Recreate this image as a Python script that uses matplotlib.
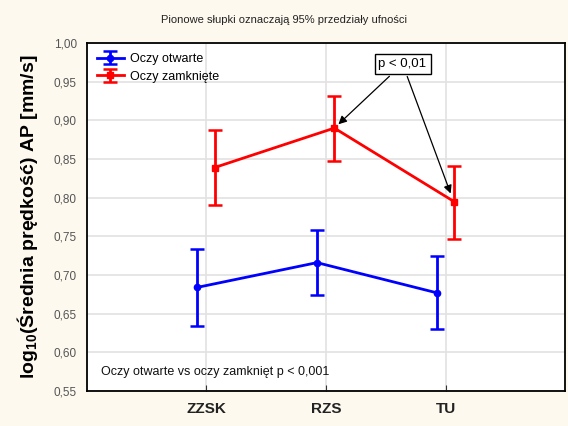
import matplotlib
matplotlib.use("Agg")
import matplotlib.pyplot as plt
from matplotlib import font_manager
import numpy as np

# ---- data ----
categories = ["ZZSK", "RZS", "TU"]
open_mean = [0.684, 0.716, 0.677]
open_low = [0.634, 0.674, 0.630]
open_high = [0.733, 0.758, 0.725]
closed_mean = [0.839, 0.890, 0.795]
closed_low = [0.790, 0.848, 0.747]
closed_high = [0.888, 0.932, 0.841]
series_names = ["Oczy otwarte", "Oczy zamknięte"]
yticks = [0.55, 0.60, 0.65, 0.70, 0.75, 0.80, 0.85, 0.90, 0.95, 1.00]

avail = {f.name for f in font_manager.fontManager.ttflist}
narrow = "Liberation Sans Narrow" if "Liberation Sans Narrow" in avail else "Liberation Sans"
plt.rcParams['font.family'] = [narrow, 'DejaVu Sans']
plt.rcParams['mathtext.fontset'] = 'custom'
plt.rcParams['mathtext.rm'] = 'Liberation Sans:bold'
plt.rcParams['mathtext.bf'] = 'Liberation Sans:bold'
plt.rcParams['mathtext.default'] = 'bf'

bg = "#FDF9EF"
fig = plt.figure(figsize=(5.68, 4.26), dpi=100, facecolor=bg)
ax = fig.add_axes([0.1526, 0.0822, 0.9952 - 0.1526, 0.899 - 0.0822])
ax.set_facecolor("white")

x = np.arange(1, len(categories) + 1)
xb = x - 0.075
xr = x + 0.07

def yerr(m, lo, hi):
    m = np.array(m); return [m - np.array(lo), np.array(hi) - m]

ax.errorbar(xb, open_mean, yerr=yerr(open_mean, open_low, open_high), color="#0000FF",
            lw=2, marker="o", ms=4.5, capsize=5, capthick=1.8, elinewidth=2,
            label=series_names[0], zorder=3)
ax.errorbar(xr, closed_mean, yerr=yerr(closed_mean, closed_low, closed_high), color="#FF0000",
            lw=2, marker="s", ms=4.5, capsize=5, capthick=1.8, elinewidth=2,
            label=series_names[1], zorder=3)

ax.set_xlim(0, 4)
ax.set_ylim(0.55, 1.00)
ax.set_xticks(x)
ax.set_xticklabels(categories, fontsize=11, fontweight="bold", color="#222222")
ax.set_yticks(yticks)
ax.set_yticklabels([f"{v:.2f}".replace(".", ",") for v in yticks], fontsize=8.5, color="#555555")
ax.tick_params(axis="y", length=0, pad=7)
ax.tick_params(axis="x", length=4, direction="in", pad=8, color="#333333")
ax.grid(True, color="#E2E2E2", lw=1.2, zorder=0)
ax.set_axisbelow(True)
for s in ax.spines.values():
    s.set_color("black"); s.set_linewidth(1.3)

ax.set_ylabel("log$_{10}$(Średnia prędkość) AP [mm/s]", fontsize=14, fontweight="bold",
              family=["Liberation Sans", "DejaVu Sans"], labelpad=10)

leg = ax.legend(loc="upper left", frameon=False, fontsize=9, handlelength=2.2,
                handletextpad=0.5, borderaxespad=0.4, labelspacing=0.45)

fig.text(0.5, 0.953, "Pionowe słupki oznaczają 95% przedziały ufności", ha="center", va="center",
         fontsize=8, color="#222222")

ax.text(0.03, 0.055, "Oczy otwarte vs oczy zamknięt p < 0,001", transform=ax.transAxes,
        fontsize=9, ha="left", va="center", color="#111111")

tx, ty = 2.64, 0.973
ax.annotate("p < 0,01", xy=(xr[1], closed_mean[1]), xytext=(tx, ty), fontsize=9.5,
            ha="center", va="center",
            bbox=dict(boxstyle="square,pad=0.3", fc="white", ec="black", lw=1),
            arrowprops=dict(arrowstyle="-|>", color="black", lw=0.9, shrinkB=4,
                            mutation_scale=12), zorder=5)
ax.annotate("p < 0,01", xy=(xr[2] - 0.02, closed_mean[2] + 0.007), xytext=(tx, ty), fontsize=9.5,
            ha="center", va="center", color="none",
            bbox=dict(boxstyle="square,pad=0.3", fc="none", ec="none"),
            arrowprops=dict(arrowstyle="-|>", color="black", lw=0.9, shrinkB=2,
                            mutation_scale=12), zorder=5)

fig.savefig("out.png", dpi=100, facecolor=bg)
